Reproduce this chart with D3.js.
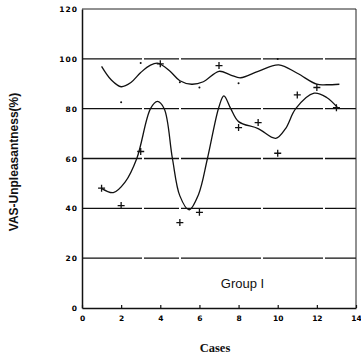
<!DOCTYPE html>
<html>
<head>
<meta charset="utf-8">
<script src="https://cdn.jsdelivr.net/npm/d3@7"></script>
<style>
  body { margin: 0; background: #fff; }
  svg { display: block; }
</style>
</head>
<body>
<div class="chart"></div>
<script>
// Data
const xTicks = [0, 2, 4, 6, 8, 10, 12, 14];
const yTicks = [0, 20, 40, 60, 80, 100, 120];

// upper series (VAS readings drawn as dots / crosses)
const upperDots = [[2, 82.6], [3, 98.3], [5, 90.6], [6, 88.5], [8, 90.2], [10, 99.9]];
const upperPlus = [[4, 98], [7, 97.3], [12, 88.5]];
// lower series (crosses)
const lowerPlus = [[1, 48.1], [2, 41.1], [3, 62.8], [5, 34.3], [6, 38.4], [8, 72.4],
                   [9, 74.4], [10, 62.1], [11, 85.5], [13, 80.4]];

// smoothed fit curves
const upperCurve = [[1, 97], [1.5, 91.5], [2, 88.8], [2.5, 90.5], [3, 94.5], [3.5, 97.5],
                    [3.9, 98.2], [4.5, 95], [5, 91.2], [5.6, 89.8], [6.2, 90.8], [7, 95],
                    [7.6, 93.5], [8.1, 92.4], [9, 95], [10.05, 97.6], [11, 94.2], [12, 89.8],
                    [12.5, 89.6], [13.15, 89.8]];
const lowerCurve = [[1, 48], [1.6, 46.3], [2.2, 50.5], [2.8, 60], [3.5, 80], [3.85, 82.9],
                    [4.2, 80], [4.62, 60], [5.0, 45], [5.47, 39.4], [5.95, 45.5], [6.41, 60],
                    [7.0, 80.8], [7.25, 85.1], [7.6, 80], [8.0, 74.8], [9.0, 72], [9.9, 68.1],
                    [10.4, 72], [10.92, 80], [11.86, 86.2], [12.5, 84.5], [13.06, 80.4]];

// Dimensions
const dimensions = {
    width: 361,
    height: 360,
    left: 82,
    top: 9,
    right: 5,
    bottom: 52
};
dimensions.containerWidth = dimensions.width - dimensions.left - dimensions.right;
dimensions.containerHeight = dimensions.height - dimensions.top - dimensions.bottom;

const svg = d3.select('.chart')
    .append('svg')
    .attr('width', dimensions.width)
    .attr('height', dimensions.height);

const container = svg.append('g')
    .attr('transform', `translate(${dimensions.left}, ${dimensions.top})`);

// Scales
const xScale = d3.scaleLinear()
    .domain([0, 14])
    .range([0, dimensions.containerWidth]);

const yScale = d3.scaleLinear()
    .domain([0, 120])
    .range([dimensions.containerHeight, 0]);

// Grid lines
container.selectAll('.grid')
    .data(yTicks.filter(d => d > 0 && d < 120))
    .join('line')
    .attr('class', 'grid')
    .attr('x1', 0)
    .attr('x2', dimensions.containerWidth)
    .attr('y1', d => yScale(d))
    .attr('y2', d => yScale(d))
    .attr('stroke', '#111')
    .attr('stroke-width', 1.3)
    .attr('stroke-dasharray', '60 2 35 2 80 2');

// Frame (top + right)
container.append('path')
    .attr('d', `M0,${yScale(120)}H${xScale(14)}V${yScale(0)}`)
    .attr('fill', 'none')
    .attr('stroke', '#222')
    .attr('stroke-width', 1);

// Axes
const xAxis = d3.axisBottom(xScale)
    .tickValues(xTicks)
    .tickSizeInner(-3)
    .tickSizeOuter(0)
    .tickPadding(8);
const xAxisGroup = container.append('g')
    .attr('transform', `translate(0, ${dimensions.containerHeight})`)
    .call(xAxis);

const yAxis = d3.axisLeft(yScale)
    .tickValues(yTicks)
    .tickSizeInner(0)
    .tickSizeOuter(0)
    .tickPadding(4);
const yAxisGroup = container.append('g').call(yAxis);

[xAxisGroup, yAxisGroup].forEach(g => {
    g.select('.domain').attr('stroke', '#111').attr('stroke-width', 1.5);
    g.selectAll('.tick line').attr('stroke', '#111').attr('stroke-width', 1.2);
    g.selectAll('.tick text')
        .attr('fill', '#000')
        .style('font-family', 'DejaVu Sans')
        .style('font-weight', 'bold')
        .style('font-size', '7.5px');
});
yAxisGroup.selectAll('.tick text').attr('dy', '0.35em').style('letter-spacing', '1px');

// Curves
const line = d3.line()
    .x(d => xScale(d[0]))
    .y(d => yScale(d[1]))
    .curve(d3.curveCatmullRom.alpha(0.5));

container.selectAll('.fit')
    .data([upperCurve, lowerCurve])
    .join('path')
    .attr('class', 'fit')
    .attr('d', line)
    .attr('fill', 'none')
    .attr('stroke', '#111')
    .attr('stroke-width', 1.3);

// Markers
const plusPath = 'M-3.5,0H3.5M0,-3.5V3.5';
container.selectAll('.plus')
    .data(upperPlus.concat(lowerPlus))
    .join('path')
    .attr('class', 'plus')
    .attr('transform', d => `translate(${xScale(d[0])}, ${yScale(d[1])})`)
    .attr('d', plusPath)
    .attr('stroke', '#111')
    .attr('stroke-width', 1.3);

container.selectAll('.dot')
    .data(upperDots)
    .join('circle')
    .attr('class', 'dot')
    .attr('cx', d => xScale(d[0]))
    .attr('cy', d => yScale(d[1]))
    .attr('r', 1)
    .attr('fill', '#111');

// Labels
container.append('text')
    .attr('x', xScale(8.2))
    .attr('y', yScale(8))
    .attr('text-anchor', 'middle')
    .style('font-family', 'Liberation Sans')
    .style('font-size', '13px')
    .attr('fill', '#111')
    .text('Group I');

svg.append('text')
    .attr('x', 215)
    .attr('y', 352)
    .attr('text-anchor', 'middle')
    .style('font-family', 'Liberation Serif')
    .style('font-weight', 'bold')
    .style('font-size', '12.5px')
    .attr('fill', '#111')
    .text('Cases');

svg.append('text')
    .attr('transform', 'translate(18, 162) rotate(-90)')
    .attr('text-anchor', 'middle')
    .style('font-family', 'Liberation Sans')
    .style('font-weight', 'bold')
    .style('font-size', '12px')
    .attr('fill', '#111')
    .text('VAS-Unpleasantness(%)');
</script>
</body>
</html>
